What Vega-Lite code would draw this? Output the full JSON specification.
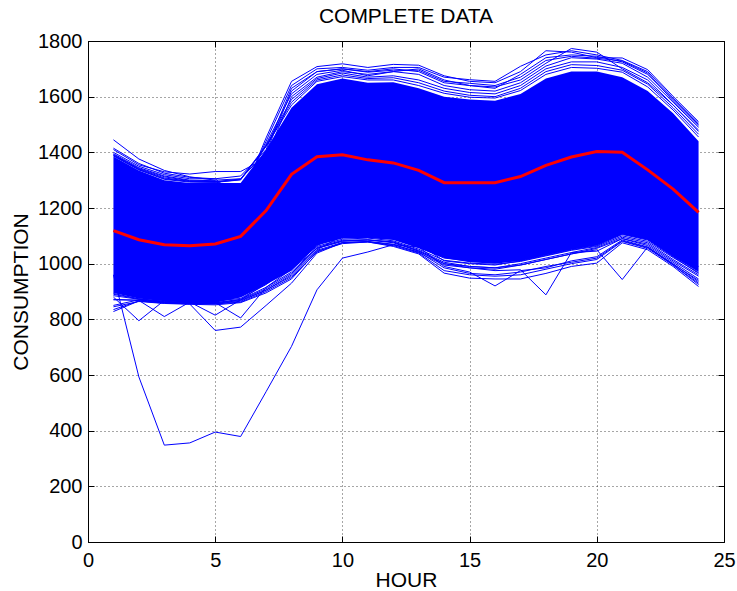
{
"$schema": "https://vega.github.io/schema/vega-lite/v6.json",
"width": 636, "height": 501,
"autosize": "none",
"padding": {"left": 88, "top": 41, "right": 13, "bottom": 49},
"background": "white",
"config": {"view": {"stroke": "black", "strokeWidth": 1}, "font": "Liberation Sans"},
"title": {"text": "COMPLETE DATA", "fontSize": 21, "font": "Liberation Sans", "fontWeight": "normal", "color": "#000", "anchor": "middle", "frame": "group", "baseline": "bottom", "offset": 4, "dy": 21},
"datasets": {
"band": [
{"h":1,"lo":895,"hi":1385},{"h":2,"lo":875,"hi":1335},{"h":3,"lo":865,"hi":1300},{"h":4,"lo":860,"hi":1290},{"h":5,"lo":860,"hi":1290},{"h":6,"lo":878,"hi":1290},{"h":7,"lo":925,"hi":1410},{"h":8,"lo":975,"hi":1560},{"h":9,"lo":1065,"hi":1645},{"h":10,"lo":1090,"hi":1665},{"h":11,"lo":1092,"hi":1650},{"h":12,"lo":1085,"hi":1652},{"h":13,"lo":1055,"hi":1630},{"h":14,"lo":1020,"hi":1600},{"h":15,"lo":1005,"hi":1590},{"h":16,"lo":1000,"hi":1585},{"h":17,"lo":1010,"hi":1610},{"h":18,"lo":1030,"hi":1665},{"h":19,"lo":1050,"hi":1690},{"h":20,"lo":1065,"hi":1690},{"h":21,"lo":1105,"hi":1670},{"h":22,"lo":1085,"hi":1620},{"h":23,"lo":1025,"hi":1540},{"h":24,"lo":970,"hi":1440}
],
"mean": [
{"h":1,"v":1119},{"h":2,"v":1086},{"h":3,"v":1068},{"h":4,"v":1064},{"h":5,"v":1071},{"h":6,"v":1098},{"h":7,"v":1191},{"h":8,"v":1321},{"h":9,"v":1384},{"h":10,"v":1391},{"h":11,"v":1373},{"h":12,"v":1362},{"h":13,"v":1335},{"h":14,"v":1291},{"h":15,"v":1291},{"h":16,"v":1291},{"h":17,"v":1313},{"h":18,"v":1353},{"h":19,"v":1383},{"h":20,"v":1403},{"h":21,"v":1400},{"h":22,"v":1337},{"h":23,"v":1268},{"h":24,"v":1184}
],
"lines": [
{"s":"U1","h":1,"v":1445},{"s":"U1","h":2,"v":1376},{"s":"U1","h":3,"v":1335},{"s":"U1","h":4,"v":1312},{"s":"U1","h":5,"v":1300},{"s":"U1","h":6,"v":1305},{"s":"U1","h":7,"v":1400},{"s":"U1","h":8,"v":1620},{"s":"U1","h":9,"v":1690},{"s":"U1","h":10,"v":1700},{"s":"U1","h":11,"v":1690},{"s":"U1","h":12,"v":1700},{"s":"U1","h":13,"v":1690},{"s":"U1","h":14,"v":1650},{"s":"U1","h":15,"v":1640},{"s":"U1","h":16,"v":1630},{"s":"U1","h":17,"v":1680},{"s":"U1","h":18,"v":1740},{"s":"U1","h":19,"v":1750},{"s":"U1","h":20,"v":1745},{"s":"U1","h":21,"v":1725},{"s":"U1","h":22,"v":1680},{"s":"U1","h":23,"v":1590},{"s":"U1","h":24,"v":1500},
{"s":"U2","h":1,"v":1410},{"s":"U2","h":2,"v":1355},{"s":"U2","h":3,"v":1330},{"s":"U2","h":4,"v":1322},{"s":"U2","h":5,"v":1331},{"s":"U2","h":6,"v":1331},{"s":"U2","h":7,"v":1380},{"s":"U2","h":8,"v":1600},{"s":"U2","h":9,"v":1670},{"s":"U2","h":10,"v":1690},{"s":"U2","h":11,"v":1680},{"s":"U2","h":12,"v":1690},{"s":"U2","h":13,"v":1700},{"s":"U2","h":14,"v":1660},{"s":"U2","h":15,"v":1640},{"s":"U2","h":16,"v":1635},{"s":"U2","h":17,"v":1660},{"s":"U2","h":18,"v":1720},{"s":"U2","h":19,"v":1773},{"s":"U2","h":20,"v":1760},{"s":"U2","h":21,"v":1700},{"s":"U2","h":22,"v":1650},{"s":"U2","h":23,"v":1570},{"s":"U2","h":24,"v":1480},
{"s":"U3","h":1,"v":1400},{"s":"U3","h":2,"v":1350},{"s":"U3","h":3,"v":1320},{"s":"U3","h":4,"v":1305},{"s":"U3","h":5,"v":1305},{"s":"U3","h":6,"v":1230},{"s":"U3","h":7,"v":1452},{"s":"U3","h":8,"v":1655},{"s":"U3","h":9,"v":1708},{"s":"U3","h":10,"v":1718},{"s":"U3","h":11,"v":1705},{"s":"U3","h":12,"v":1716},{"s":"U3","h":13,"v":1713},{"s":"U3","h":14,"v":1675},{"s":"U3","h":15,"v":1655},{"s":"U3","h":16,"v":1650},{"s":"U3","h":17,"v":1690},{"s":"U3","h":18,"v":1765},{"s":"U3","h":19,"v":1760},{"s":"U3","h":20,"v":1740},{"s":"U3","h":21,"v":1739},{"s":"U3","h":22,"v":1697},{"s":"U3","h":23,"v":1601},{"s":"U3","h":24,"v":1510},
{"s":"U4","h":1,"v":1395},{"s":"U4","h":2,"v":1345},{"s":"U4","h":3,"v":1315},{"s":"U4","h":4,"v":1300},{"s":"U4","h":5,"v":1298},{"s":"U4","h":6,"v":1240},{"s":"U4","h":7,"v":1440},{"s":"U4","h":8,"v":1640},{"s":"U4","h":9,"v":1700},{"s":"U4","h":10,"v":1705},{"s":"U4","h":11,"v":1695},{"s":"U4","h":12,"v":1705},{"s":"U4","h":13,"v":1705},{"s":"U4","h":14,"v":1670},{"s":"U4","h":15,"v":1661},{"s":"U4","h":16,"v":1655},{"s":"U4","h":17,"v":1709},{"s":"U4","h":18,"v":1750},{"s":"U4","h":19,"v":1765},{"s":"U4","h":20,"v":1750},{"s":"U4","h":21,"v":1730},{"s":"U4","h":22,"v":1690},{"s":"U4","h":23,"v":1595},{"s":"U4","h":24,"v":1505},
{"s":"U5","h":1,"v":1392},{"s":"U5","h":2,"v":1342},{"s":"U5","h":3,"v":1312},{"s":"U5","h":4,"v":1298},{"s":"U5","h":5,"v":1296},{"s":"U5","h":6,"v":1250},{"s":"U5","h":7,"v":1430},{"s":"U5","h":8,"v":1610},{"s":"U5","h":9,"v":1680},{"s":"U5","h":10,"v":1695},{"s":"U5","h":11,"v":1675},{"s":"U5","h":12,"v":1690},{"s":"U5","h":13,"v":1680},{"s":"U5","h":14,"v":1640},{"s":"U5","h":15,"v":1625},{"s":"U5","h":16,"v":1620},{"s":"U5","h":17,"v":1650},{"s":"U5","h":18,"v":1710},{"s":"U5","h":19,"v":1740},{"s":"U5","h":20,"v":1735},{"s":"U5","h":21,"v":1720},{"s":"U5","h":22,"v":1670},{"s":"U5","h":23,"v":1580},{"s":"U5","h":24,"v":1490},
{"s":"U6","h":1,"v":1390},{"s":"U6","h":2,"v":1340},{"s":"U6","h":3,"v":1308},{"s":"U6","h":4,"v":1296},{"s":"U6","h":5,"v":1295},{"s":"U6","h":6,"v":1304},{"s":"U6","h":7,"v":1425},{"s":"U6","h":8,"v":1590},{"s":"U6","h":9,"v":1665},{"s":"U6","h":10,"v":1685},{"s":"U6","h":11,"v":1670},{"s":"U6","h":12,"v":1675},{"s":"U6","h":13,"v":1660},{"s":"U6","h":14,"v":1630},{"s":"U6","h":15,"v":1615},{"s":"U6","h":16,"v":1610},{"s":"U6","h":17,"v":1640},{"s":"U6","h":18,"v":1700},{"s":"U6","h":19,"v":1725},{"s":"U6","h":20,"v":1725},{"s":"U6","h":21,"v":1705},{"s":"U6","h":22,"v":1660},{"s":"U6","h":23,"v":1570},{"s":"U6","h":24,"v":1475},
{"s":"U7","h":1,"v":1388},{"s":"U7","h":2,"v":1338},{"s":"U7","h":3,"v":1305},{"s":"U7","h":4,"v":1295},{"s":"U7","h":5,"v":1293},{"s":"U7","h":6,"v":1302},{"s":"U7","h":7,"v":1422},{"s":"U7","h":8,"v":1580},{"s":"U7","h":9,"v":1660},{"s":"U7","h":10,"v":1678},{"s":"U7","h":11,"v":1665},{"s":"U7","h":12,"v":1668},{"s":"U7","h":13,"v":1650},{"s":"U7","h":14,"v":1620},{"s":"U7","h":15,"v":1605},{"s":"U7","h":16,"v":1600},{"s":"U7","h":17,"v":1630},{"s":"U7","h":18,"v":1690},{"s":"U7","h":19,"v":1715},{"s":"U7","h":20,"v":1712},{"s":"U7","h":21,"v":1695},{"s":"U7","h":22,"v":1645},{"s":"U7","h":23,"v":1560},{"s":"U7","h":24,"v":1465},
{"s":"U8","h":1,"v":1415},{"s":"U8","h":2,"v":1360},{"s":"U8","h":3,"v":1325},{"s":"U8","h":4,"v":1310},{"s":"U8","h":5,"v":1305},{"s":"U8","h":6,"v":1315},{"s":"U8","h":7,"v":1410},{"s":"U8","h":8,"v":1630},{"s":"U8","h":9,"v":1690},{"s":"U8","h":10,"v":1700},{"s":"U8","h":11,"v":1688},{"s":"U8","h":12,"v":1695},{"s":"U8","h":13,"v":1695},{"s":"U8","h":14,"v":1655},{"s":"U8","h":15,"v":1648},{"s":"U8","h":16,"v":1640},{"s":"U8","h":17,"v":1670},{"s":"U8","h":18,"v":1730},{"s":"U8","h":19,"v":1745},{"s":"U8","h":20,"v":1738},{"s":"U8","h":21,"v":1728},{"s":"U8","h":22,"v":1685},{"s":"U8","h":23,"v":1585},{"s":"U8","h":24,"v":1495},
{"s":"U9","h":1,"v":1387},{"s":"U9","h":2,"v":1337},{"s":"U9","h":3,"v":1303},{"s":"U9","h":4,"v":1293},{"s":"U9","h":5,"v":1292},{"s":"U9","h":6,"v":1301},{"s":"U9","h":7,"v":1421},{"s":"U9","h":8,"v":1570},{"s":"U9","h":9,"v":1655},{"s":"U9","h":10,"v":1672},{"s":"U9","h":11,"v":1660},{"s":"U9","h":12,"v":1660},{"s":"U9","h":13,"v":1640},{"s":"U9","h":14,"v":1612},{"s":"U9","h":15,"v":1598},{"s":"U9","h":16,"v":1595},{"s":"U9","h":17,"v":1622},{"s":"U9","h":18,"v":1680},{"s":"U9","h":19,"v":1705},{"s":"U9","h":20,"v":1702},{"s":"U9","h":21,"v":1688},{"s":"U9","h":22,"v":1635},{"s":"U9","h":23,"v":1552},{"s":"U9","h":24,"v":1455},
{"s":"D1","h":1,"v":960},{"s":"D1","h":2,"v":593},{"s":"D1","h":3,"v":348},{"s":"D1","h":4,"v":356},{"s":"D1","h":5,"v":395},{"s":"D1","h":6,"v":379},{"s":"D1","h":7,"v":540},{"s":"D1","h":8,"v":703},{"s":"D1","h":9,"v":906},{"s":"D1","h":10,"v":1020},{"s":"D1","h":11,"v":1042},{"s":"D1","h":12,"v":1068},{"s":"D1","h":13,"v":1060},{"s":"D1","h":14,"v":1020},{"s":"D1","h":15,"v":1010},{"s":"D1","h":16,"v":1010},{"s":"D1","h":17,"v":1030},{"s":"D1","h":18,"v":1050},{"s":"D1","h":19,"v":1070},{"s":"D1","h":20,"v":1080},{"s":"D1","h":21,"v":1115},{"s":"D1","h":22,"v":1090},{"s":"D1","h":23,"v":1040},{"s":"D1","h":24,"v":990},
{"s":"D2","h":1,"v":880},{"s":"D2","h":2,"v":795},{"s":"D2","h":3,"v":868},{"s":"D2","h":4,"v":865},{"s":"D2","h":5,"v":866},{"s":"D2","h":6,"v":875},{"s":"D2","h":7,"v":925},{"s":"D2","h":8,"v":990},{"s":"D2","h":9,"v":1065},{"s":"D2","h":10,"v":1110},{"s":"D2","h":11,"v":1115},{"s":"D2","h":12,"v":1100},{"s":"D2","h":13,"v":1070},{"s":"D2","h":14,"v":1010},{"s":"D2","h":15,"v":1000},{"s":"D2","h":16,"v":995},{"s":"D2","h":17,"v":1010},{"s":"D2","h":18,"v":1030},{"s":"D2","h":19,"v":1050},{"s":"D2","h":20,"v":1065},{"s":"D2","h":21,"v":1105},{"s":"D2","h":22,"v":1085},{"s":"D2","h":23,"v":1025},{"s":"D2","h":24,"v":965},
{"s":"D3","h":1,"v":872},{"s":"D3","h":2,"v":868},{"s":"D3","h":3,"v":810},{"s":"D3","h":4,"v":862},{"s":"D3","h":5,"v":815},{"s":"D3","h":6,"v":870},{"s":"D3","h":7,"v":930},{"s":"D3","h":8,"v":985},{"s":"D3","h":9,"v":1062},{"s":"D3","h":10,"v":1088},{"s":"D3","h":11,"v":1092},{"s":"D3","h":12,"v":1082},{"s":"D3","h":13,"v":1052},{"s":"D3","h":14,"v":1012},{"s":"D3","h":15,"v":1002},{"s":"D3","h":16,"v":998},{"s":"D3","h":17,"v":1008},{"s":"D3","h":18,"v":1028},{"s":"D3","h":19,"v":1048},{"s":"D3","h":20,"v":1062},{"s":"D3","h":21,"v":1100},{"s":"D3","h":22,"v":1080},{"s":"D3","h":23,"v":1022},{"s":"D3","h":24,"v":968},
{"s":"D4","h":1,"v":850},{"s":"D4","h":2,"v":870},{"s":"D4","h":3,"v":860},{"s":"D4","h":4,"v":858},{"s":"D4","h":5,"v":860},{"s":"D4","h":6,"v":805},{"s":"D4","h":7,"v":915},{"s":"D4","h":8,"v":980},{"s":"D4","h":9,"v":1055},{"s":"D4","h":10,"v":1080},{"s":"D4","h":11,"v":1085},{"s":"D4","h":12,"v":1078},{"s":"D4","h":13,"v":1045},{"s":"D4","h":14,"v":1000},{"s":"D4","h":15,"v":990},{"s":"D4","h":16,"v":985},{"s":"D4","h":17,"v":1000},{"s":"D4","h":18,"v":1020},{"s":"D4","h":19,"v":1040},{"s":"D4","h":20,"v":1058},{"s":"D4","h":21,"v":1095},{"s":"D4","h":22,"v":1075},{"s":"D4","h":23,"v":1015},{"s":"D4","h":24,"v":960},
{"s":"D5","h":1,"v":835},{"s":"D5","h":2,"v":866},{"s":"D5","h":3,"v":860},{"s":"D5","h":4,"v":855},{"s":"D5","h":5,"v":760},{"s":"D5","h":6,"v":772},{"s":"D5","h":7,"v":850},{"s":"D5","h":8,"v":930},{"s":"D5","h":9,"v":1038},{"s":"D5","h":10,"v":1075},{"s":"D5","h":11,"v":1080},{"s":"D5","h":12,"v":1070},{"s":"D5","h":13,"v":1040},{"s":"D5","h":14,"v":995},{"s":"D5","h":15,"v":985},{"s":"D5","h":16,"v":980},{"s":"D5","h":17,"v":995},{"s":"D5","h":18,"v":1015},{"s":"D5","h":19,"v":1035},{"s":"D5","h":20,"v":1055},{"s":"D5","h":21,"v":1090},{"s":"D5","h":22,"v":1070},{"s":"D5","h":23,"v":1010},{"s":"D5","h":24,"v":955},
{"s":"D6","h":1,"v":845},{"s":"D6","h":2,"v":864},{"s":"D6","h":3,"v":857},{"s":"D6","h":4,"v":854},{"s":"D6","h":5,"v":852},{"s":"D6","h":6,"v":860},{"s":"D6","h":7,"v":895},{"s":"D6","h":8,"v":945},{"s":"D6","h":9,"v":1045},{"s":"D6","h":10,"v":1072},{"s":"D6","h":11,"v":1078},{"s":"D6","h":12,"v":1062},{"s":"D6","h":13,"v":1035},{"s":"D6","h":14,"v":966},{"s":"D6","h":15,"v":948},{"s":"D6","h":16,"v":945},{"s":"D6","h":17,"v":945},{"s":"D6","h":18,"v":965},{"s":"D6","h":19,"v":990},{"s":"D6","h":20,"v":1002},{"s":"D6","h":21,"v":1075},{"s":"D6","h":22,"v":1050},{"s":"D6","h":23,"v":990},{"s":"D6","h":24,"v":918},
{"s":"D7","h":1,"v":885},{"s":"D7","h":2,"v":872},{"s":"D7","h":3,"v":862},{"s":"D7","h":4,"v":857},{"s":"D7","h":5,"v":857},{"s":"D7","h":6,"v":868},{"s":"D7","h":7,"v":905},{"s":"D7","h":8,"v":960},{"s":"D7","h":9,"v":1050},{"s":"D7","h":10,"v":1100},{"s":"D7","h":11,"v":1105},{"s":"D7","h":12,"v":1095},{"s":"D7","h":13,"v":1060},{"s":"D7","h":14,"v":990},{"s":"D7","h":15,"v":970},{"s":"D7","h":16,"v":920},{"s":"D7","h":17,"v":975},{"s":"D7","h":18,"v":985},{"s":"D7","h":19,"v":1010},{"s":"D7","h":20,"v":1025},{"s":"D7","h":21,"v":1085},{"s":"D7","h":22,"v":1060},{"s":"D7","h":23,"v":1000},{"s":"D7","h":24,"v":935},
{"s":"D8","h":1,"v":890},{"s":"D8","h":2,"v":873},{"s":"D8","h":3,"v":864},{"s":"D8","h":4,"v":859},{"s":"D8","h":5,"v":859},{"s":"D8","h":6,"v":870},{"s":"D8","h":7,"v":910},{"s":"D8","h":8,"v":965},{"s":"D8","h":9,"v":1055},{"s":"D8","h":10,"v":1082},{"s":"D8","h":11,"v":1085},{"s":"D8","h":12,"v":1075},{"s":"D8","h":13,"v":1045},{"s":"D8","h":14,"v":1000},{"s":"D8","h":15,"v":985},{"s":"D8","h":16,"v":975},{"s":"D8","h":17,"v":978},{"s":"D8","h":18,"v":888},{"s":"D8","h":19,"v":1040},{"s":"D8","h":20,"v":1045},{"s":"D8","h":21,"v":1090},{"s":"D8","h":22,"v":1065},{"s":"D8","h":23,"v":1005},{"s":"D8","h":24,"v":945},
{"s":"D9","h":1,"v":893},{"s":"D9","h":2,"v":874},{"s":"D9","h":3,"v":865},{"s":"D9","h":4,"v":860},{"s":"D9","h":5,"v":860},{"s":"D9","h":6,"v":872},{"s":"D9","h":7,"v":915},{"s":"D9","h":8,"v":970},{"s":"D9","h":9,"v":1058},{"s":"D9","h":10,"v":1084},{"s":"D9","h":11,"v":1086},{"s":"D9","h":12,"v":1078},{"s":"D9","h":13,"v":1048},{"s":"D9","h":14,"v":1005},{"s":"D9","h":15,"v":990},{"s":"D9","h":16,"v":985},{"s":"D9","h":17,"v":995},{"s":"D9","h":18,"v":1015},{"s":"D9","h":19,"v":1035},{"s":"D9","h":20,"v":1050},{"s":"D9","h":21,"v":943},{"s":"D9","h":22,"v":1060},{"s":"D9","h":23,"v":995},{"s":"D9","h":24,"v":930},
{"s":"D10","h":1,"v":828},{"s":"D10","h":2,"v":866},{"s":"D10","h":3,"v":858},{"s":"D10","h":4,"v":856},{"s":"D10","h":5,"v":855},{"s":"D10","h":6,"v":862},{"s":"D10","h":7,"v":900},{"s":"D10","h":8,"v":950},{"s":"D10","h":9,"v":1042},{"s":"D10","h":10,"v":1075},{"s":"D10","h":11,"v":1078},{"s":"D10","h":12,"v":1065},{"s":"D10","h":13,"v":1038},{"s":"D10","h":14,"v":975},{"s":"D10","h":15,"v":960},{"s":"D10","h":16,"v":955},{"s":"D10","h":17,"v":960},{"s":"D10","h":18,"v":980},{"s":"D10","h":19,"v":1000},{"s":"D10","h":20,"v":1015},{"s":"D10","h":21,"v":1080},{"s":"D10","h":22,"v":1055},{"s":"D10","h":23,"v":995},{"s":"D10","h":24,"v":925},
{"s":"D11","h":1,"v":870},{"s":"D11","h":2,"v":869},{"s":"D11","h":3,"v":861},{"s":"D11","h":4,"v":857},{"s":"D11","h":5,"v":856},{"s":"D11","h":6,"v":865},{"s":"D11","h":7,"v":905},{"s":"D11","h":8,"v":955},{"s":"D11","h":9,"v":1048},{"s":"D11","h":10,"v":1076},{"s":"D11","h":11,"v":1079},{"s":"D11","h":12,"v":1068},{"s":"D11","h":13,"v":1042},{"s":"D11","h":14,"v":985},{"s":"D11","h":15,"v":965},{"s":"D11","h":16,"v":960},{"s":"D11","h":17,"v":970},{"s":"D11","h":18,"v":990},{"s":"D11","h":19,"v":1005},{"s":"D11","h":20,"v":1020},{"s":"D11","h":21,"v":1082},{"s":"D11","h":22,"v":1058},{"s":"D11","h":23,"v":998},{"s":"D11","h":24,"v":940}
]
},
"layer": [
{
"data": {"name": "band"},
"mark": {"type": "area", "color": "#0000ff", "opacity": 1},
"encoding": {
"x": {"field": "h", "type": "quantitative", "scale": {"domain": [0, 25], "nice": false, "zero": false},
 "axis": {"orient": "bottom", "title": "HOUR", "values": [0,5,10,15,20,25], "format": "d", "grid": true, "gridDash": [1,3], "gridColor": "#000", "gridOpacity": 0.7, "domain": false, "ticks": true, "tickSize": -6, "tickColor": "#000", "labelFlush": false, "labelOverlap": false, "labelFont": "Liberation Sans", "labelFontSize": 20, "labelColor": "#000", "labelPadding": 14, "titleFont": "Liberation Sans", "titleFontSize": 21, "titleFontWeight": "normal", "titleColor": "#000", "titleBaseline": "alphabetic", "titleY": 44}},
"y": {"field": "lo", "type": "quantitative", "scale": {"domain": [0, 1800], "nice": false, "zero": false},
 "axis": {"orient": "left", "title": "CONSUMPTION", "values": [0,200,400,600,800,1000,1200,1400,1600,1800], "format": "d", "grid": true, "gridDash": [1,3], "gridColor": "#000", "gridOpacity": 0.7, "domain": false, "ticks": true, "tickSize": -6, "tickColor": "#000", "labelFlush": false, "labelOverlap": false, "labelFont": "Liberation Sans", "labelFontSize": 20, "labelColor": "#000", "labelPadding": 12, "titleFont": "Liberation Sans", "titleFontSize": 21, "titleFontWeight": "normal", "titleColor": "#000", "titleBaseline": "alphabetic", "titleX": -61}},
"y2": {"field": "hi"}
}
},
{
"data": {"name": "lines"},
"mark": {"type": "line", "color": "#0000ff", "strokeWidth": 1},
"encoding": {
"x": {"field": "h", "type": "quantitative", "axis": {"orient": "top", "title": null, "values": [0,5,10,15,20,25], "labels": false, "grid": false, "domain": false, "tickSize": -6, "tickColor": "#000"}},
"y": {"field": "v", "type": "quantitative", "axis": {"orient": "right", "title": null, "values": [0,200,400,600,800,1000,1200,1400,1600,1800], "labels": false, "grid": false, "domain": false, "tickSize": -6, "tickColor": "#000"}},
"detail": {"field": "s"}
}
},
{
"data": {"name": "mean"},
"mark": {"type": "line", "color": "#ff0000", "strokeWidth": 3},
"encoding": {
"x": {"field": "h", "type": "quantitative", "axis": null},
"y": {"field": "v", "type": "quantitative", "axis": null}
}
}
],
"resolve": {"axis": {"x": "independent", "y": "independent"}}
}
